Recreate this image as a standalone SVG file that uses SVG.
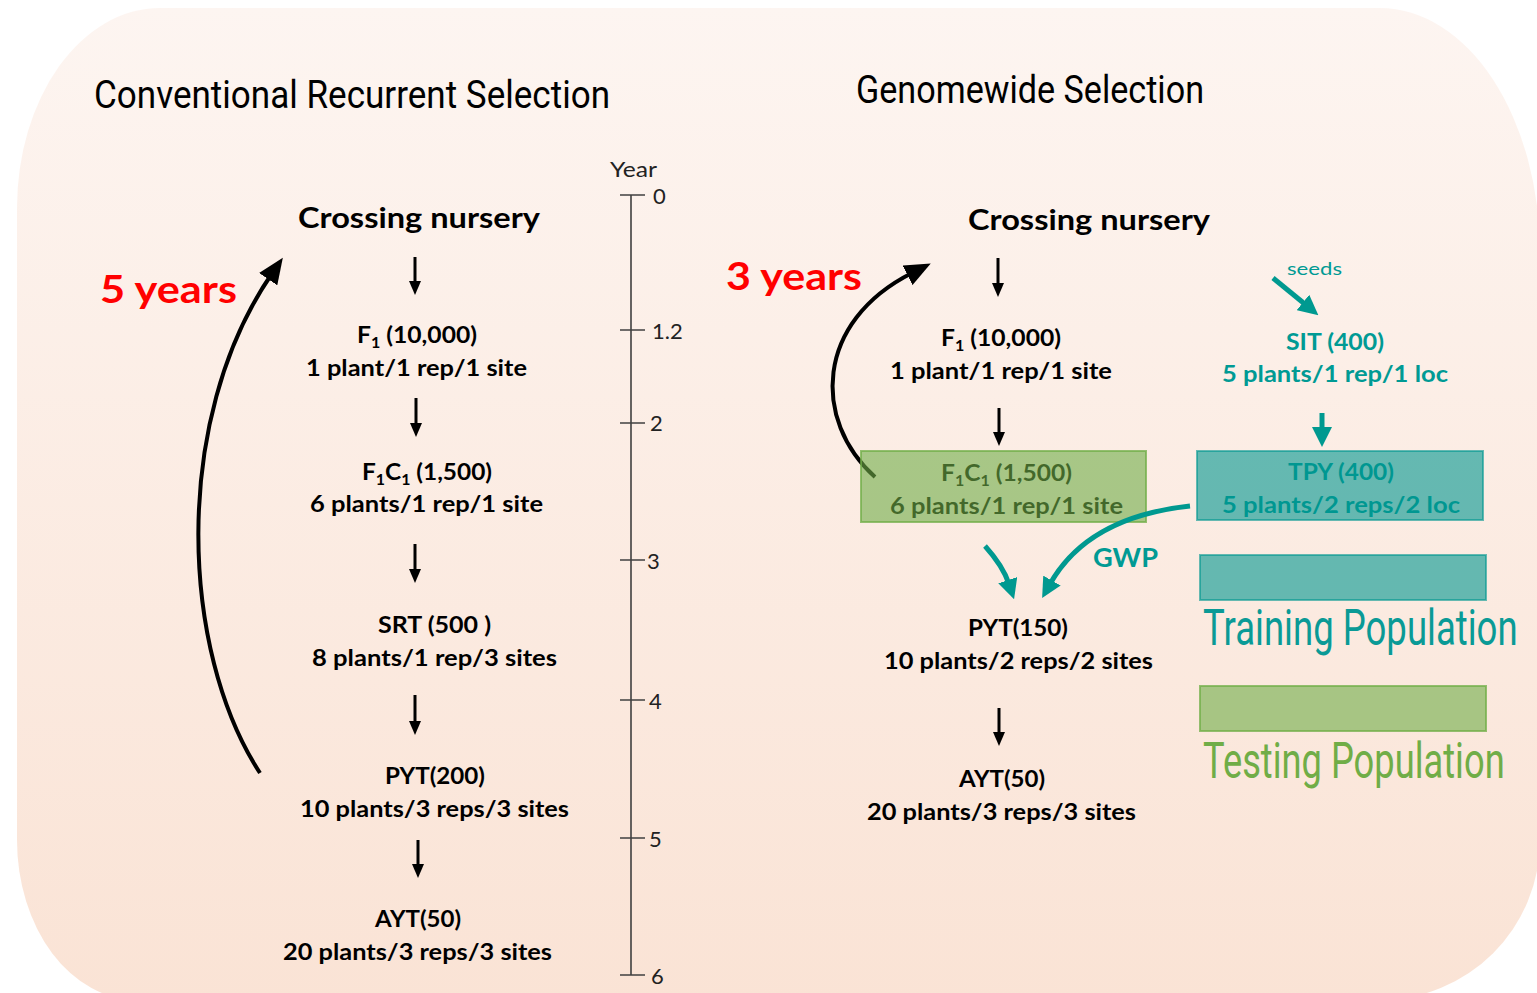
<svg xmlns="http://www.w3.org/2000/svg" width="1537" height="993" viewBox="0 0 1537 993">
<defs>
<linearGradient id="bg" x1="0" y1="0" x2="0" y2="1">
<stop offset="0" stop-color="#fdf5f1"/>
<stop offset="1" stop-color="#fae3d5"/>
</linearGradient>
<marker id="hb" markerUnits="userSpaceOnUse" markerWidth="14" markerHeight="12" refX="3" refY="6" orient="auto" viewBox="0 0 14 12">
<path d="M0,0 L14,6 L0,12 z" fill="#000"/>
</marker>
<marker id="hbig" markerUnits="userSpaceOnUse" markerWidth="26" markerHeight="22" refX="5" refY="11" orient="auto" viewBox="0 0 26 22">
<path d="M0,0 L26,11 L0,22 z" fill="#000"/>
</marker>
<marker id="ht" markerUnits="userSpaceOnUse" markerWidth="20" markerHeight="20" refX="4" refY="10" orient="auto" viewBox="0 0 20 20">
<path d="M0,0 L20,10 L0,20 z" fill="#009990"/>
</marker>
<style>
.t{font-family:Lato,"Open Sans","Liberation Sans",sans-serif;font-weight:bold;font-size:23px;fill:#000}
.h{font-family:Lato,"Open Sans","Liberation Sans",sans-serif;font-weight:bold;font-size:29px;fill:#000}
.tl{fill:#009a94}
.red{font-family:Lato,"Open Sans","Liberation Sans",sans-serif;font-weight:bold;font-size:38px;fill:#ff0000}
.title{font-family:"Liberation Sans Narrow",Roboto,"Liberation Sans",sans-serif;font-size:38px;fill:#000}
.leg{font-family:"Liberation Sans Narrow",Roboto,"Liberation Sans",sans-serif;font-size:50px}
.ax{font-family:Lato,"Open Sans","Liberation Sans",sans-serif;font-size:22px;fill:#222}
.axl{stroke:#404040;stroke-width:1.6;fill:none}
.ab{stroke:#000;stroke-width:3;fill:none}
.abig{stroke:#000;stroke-width:4;fill:none}
.at{stroke:#009990;stroke-width:5;fill:none}
.gbox{fill:#70ad47;fill-opacity:0.6;stroke:#70ad47;stroke-opacity:0.75;stroke-width:2}
.tbox{fill:#009690;fill-opacity:0.6;stroke:#009690;stroke-opacity:0.6;stroke-width:2}
</style>
</defs>

<path id="background" d="M160,8 L1380,8 A160 245 0 0 1 1540,253 L1540,840 A160 160 0 0 1 1380,1000 L137,1000 A120 160 0 0 1 17,840 L17,208 A143 200 0 0 1 160,8 Z" fill="url(#bg)"/>

<g id="titles">
<text class="title" x="94" y="108" textLength="516" lengthAdjust="spacingAndGlyphs">Conventional Recurrent Selection</text>
<text class="title" x="856" y="103" textLength="348" lengthAdjust="spacingAndGlyphs">Genomewide Selection</text>
</g>

<g id="year-axis">
<text class="ax" x="610" y="177" textLength="47" lengthAdjust="spacingAndGlyphs">Year</text>
<path class="axl" d="M631,195 V975 M620,195 H645 M620,330 H645 M620,423 H645 M620,560 H645 M620,700 H645 M620,838 H645 M620,975 H645"/>
<text class="ax" x="653" y="204">0</text>
<text class="ax" x="652" y="339">1.2</text>
<text class="ax" x="650" y="431">2</text>
<text class="ax" x="647" y="569">3</text>
<text class="ax" x="649" y="709">4</text>
<text class="ax" x="649" y="847">5</text>
<text class="ax" x="651" y="984">6</text>
</g>

<g id="left-crossing"><text class="h" x="298" y="228" textLength="242" lengthAdjust="spacingAndGlyphs">Crossing nursery</text></g>
<g id="left-f1">
<text class="t" x="357" y="343" textLength="120" lengthAdjust="spacingAndGlyphs">F<tspan font-size="15" dy="5">1</tspan><tspan dy="-5"> (10,000)</tspan></text>
<text class="t" x="306" y="376" textLength="221" lengthAdjust="spacingAndGlyphs">1 plant/1 rep/1 site</text>
</g>
<g id="left-f1c1">
<text class="t" x="362" y="480" textLength="130" lengthAdjust="spacingAndGlyphs">F<tspan font-size="15" dy="5">1</tspan><tspan dy="-5">C</tspan><tspan font-size="15" dy="5">1</tspan><tspan dy="-5"> (1,500)</tspan></text>
<text class="t" x="310" y="512" textLength="233" lengthAdjust="spacingAndGlyphs">6 plants/1 rep/1 site</text>
</g>
<g id="left-srt">
<text class="t" x="378" y="633" textLength="113" lengthAdjust="spacingAndGlyphs">SRT (500 )</text>
<text class="t" x="312" y="666" textLength="245" lengthAdjust="spacingAndGlyphs">8 plants/1 rep/3 sites</text>
</g>
<g id="left-pyt">
<text class="t" x="385" y="784" textLength="100" lengthAdjust="spacingAndGlyphs">PYT(200)</text>
<text class="t" x="300" y="817" textLength="269" lengthAdjust="spacingAndGlyphs">10 plants/3 reps/3 sites</text>
</g>
<g id="left-ayt">
<text class="t" x="375" y="927" textLength="86" lengthAdjust="spacingAndGlyphs">AYT(50)</text>
<text class="t" x="283" y="960" textLength="269" lengthAdjust="spacingAndGlyphs">20 plants/3 reps/3 sites</text>
</g>
<g id="left-5years"><text class="red" x="100" y="303" textLength="137" lengthAdjust="spacingAndGlyphs">5 years</text></g>

<g id="right-crossing"><text class="h" x="968" y="230" textLength="242" lengthAdjust="spacingAndGlyphs">Crossing nursery</text></g>
<g id="right-f1">
<text class="t" x="941" y="346" textLength="120" lengthAdjust="spacingAndGlyphs">F<tspan font-size="15" dy="5">1</tspan><tspan dy="-5"> (10,000)</tspan></text>
<text class="t" x="890" y="379" textLength="222" lengthAdjust="spacingAndGlyphs">1 plant/1 rep/1 site</text>
</g>
<g id="right-3years"><text class="red" x="726" y="290" textLength="136" lengthAdjust="spacingAndGlyphs">3 years</text></g>
<g id="right-pyt">
<text class="t" x="968" y="636" textLength="100" lengthAdjust="spacingAndGlyphs">PYT(150)</text>
<text class="t" x="884" y="669" textLength="269" lengthAdjust="spacingAndGlyphs">10 plants/2 reps/2 sites</text>
</g>
<g id="right-ayt">
<text class="t" x="959" y="787" textLength="86" lengthAdjust="spacingAndGlyphs">AYT(50)</text>
<text class="t" x="867" y="820" textLength="269" lengthAdjust="spacingAndGlyphs">20 plants/3 reps/3 sites</text>
</g>
<g id="seeds"><text class="t tl" x="1287" y="275" style="font-weight:normal;font-size:18px" textLength="55" lengthAdjust="spacingAndGlyphs">seeds</text></g>
<g id="sit">
<text class="t tl" x="1286" y="350" textLength="98" lengthAdjust="spacingAndGlyphs">SIT (400)</text>
<text class="t tl" x="1222" y="382" textLength="226" lengthAdjust="spacingAndGlyphs">5 plants/1 rep/1 loc</text>
</g>

<g id="connectors">
<path class="ab" marker-end="url(#hb)" d="M415,257 V284"/>
<path class="ab" marker-end="url(#hb)" d="M416,398 V426"/>
<path class="ab" marker-end="url(#hb)" d="M415,544 V572"/>
<path class="ab" marker-end="url(#hb)" d="M415,695 V724"/>
<path class="ab" marker-end="url(#hb)" d="M418,840 V867"/>
<path class="abig" marker-end="url(#hbig)" d="M260,773 C180,650 172,420 271,275"/>
<path class="ab" marker-end="url(#hb)" d="M998,258 V286"/>
<path class="ab" marker-end="url(#hb)" d="M999,408 V435"/>
<path class="ab" marker-end="url(#hb)" d="M999,708 V735"/>
<path class="abig" marker-end="url(#hbig)" d="M875,477 C812,420 815,322 912,273"/>
<path class="at" marker-end="url(#ht)" d="M1273,278 L1306,305"/>
<path class="at" marker-end="url(#ht)" d="M1322,413 V431"/>
</g>

<g id="f1c1-box">
<text class="t" x="941" y="481" textLength="131" lengthAdjust="spacingAndGlyphs">F<tspan font-size="15" dy="5">1</tspan><tspan dy="-5">C</tspan><tspan font-size="15" dy="5">1</tspan><tspan dy="-5"> (1,500)</tspan></text>
<text class="t" x="890" y="514" textLength="233" lengthAdjust="spacingAndGlyphs">6 plants/1 rep/1 site</text>
<rect class="gbox" x="861" y="451" width="285" height="71"/>
</g>
<g id="tpy-box">
<text class="t tl" x="1288" y="480" textLength="106" lengthAdjust="spacingAndGlyphs">TPY (400)</text>
<text class="t tl" x="1222" y="513" textLength="238" lengthAdjust="spacingAndGlyphs">5 plants/2 reps/2 loc</text>
<rect class="tbox" x="1197" y="451" width="286" height="69"/>
</g>

<g id="gwp-connectors">
<path class="at" marker-end="url(#ht)" d="M985,546 Q1003,566 1009,584"/>
<path class="at" marker-end="url(#ht)" d="M1190,506 C1115,514 1072,545 1050,584"/>
<text class="t tl" x="1093" y="567" style="font-size:26px" textLength="65" lengthAdjust="spacingAndGlyphs">GWP</text>
</g>

<g id="legend-training">
<rect class="tbox" x="1200" y="555" width="286" height="45"/>
<text class="leg" fill="#0a9a96" transform="translate(1203,645) scale(0.72,1)" x="0" y="0" textLength="437" lengthAdjust="spacingAndGlyphs">Training Population</text>
</g>
<g id="legend-testing">
<rect class="gbox" x="1200" y="686" width="286" height="45"/>
<text class="leg" fill="#70ad47" transform="translate(1203,778) scale(0.72,1)" x="0" y="0" textLength="419" lengthAdjust="spacingAndGlyphs">Testing Population</text>
</g>
</svg>
